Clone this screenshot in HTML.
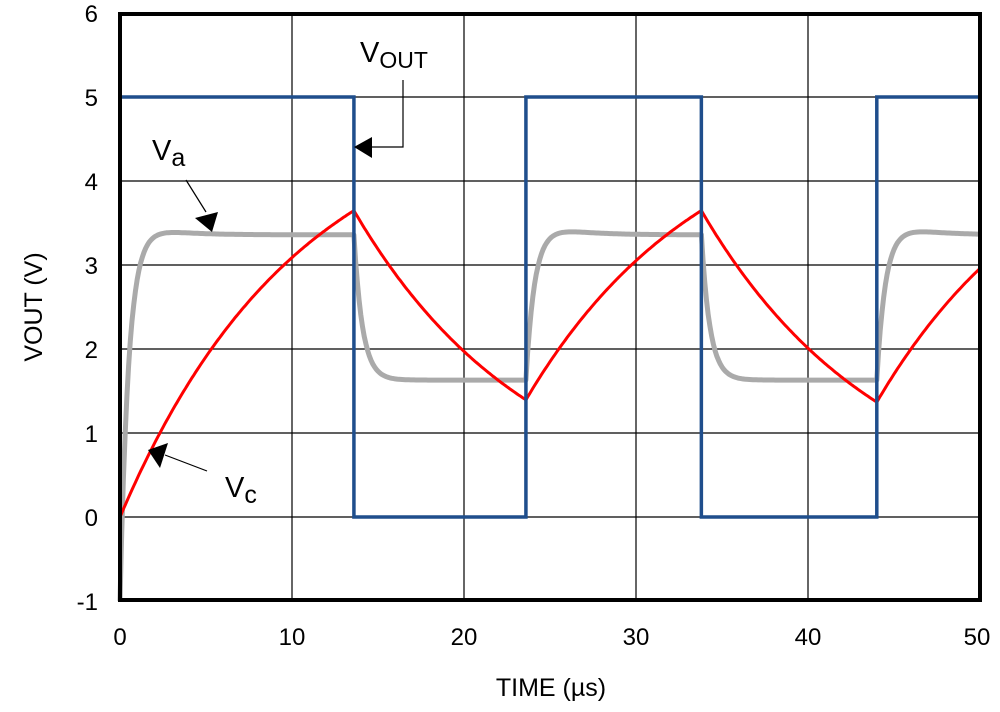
<!DOCTYPE html>
<html><head><meta charset="utf-8"><style>
body{margin:0;background:#fff;}
svg{display:block;font-family:"Liberation Sans",sans-serif;}
</style></head><body>
<svg id="s" width="1000" height="712" viewBox="0 0 1000 712">
<g stroke="#000" stroke-width="1.2" id="grid"></g>
<g font-size="24" fill="#000" text-anchor="end" id="yl"></g>
<g font-size="24" fill="#000" text-anchor="middle" id="xl"></g>
<text x="551" y="696" font-size="25" text-anchor="middle">TIME (µs)</text>
<text transform="translate(42,307) rotate(-90)" font-size="25" text-anchor="middle">VOUT (V)</text>
<path id="va" fill="none" stroke="#aaaaaa" stroke-width="5" stroke-linejoin="round"/>
<path id="vc" fill="none" stroke="#ff0000" stroke-width="3"/>
<path id="vo" fill="none" stroke="#1f4e8c" stroke-width="3.5"/>
<rect x="120" y="14" width="860" height="586" fill="none" stroke="#000" stroke-width="4"/>
<text x="360" y="62" font-size="29">V<tspan font-size="23" dy="6">OUT</tspan></text>
<polyline points="403,80 403,147 372,147" fill="none" stroke="#000" stroke-width="1.2"/>
<polygon points="354,147 372,137 372,158" fill="#000"/>
<text x="152" y="160" font-size="29">V<tspan font-size="25" dy="6">a</tspan></text>
<line x1="186" y1="180" x2="206" y2="212" stroke="#000" stroke-width="1.2"/>
<polygon points="212,232 195,218 218,212" fill="#000"/>
<text x="225" y="497" font-size="29">V<tspan font-size="25" dy="6">c</tspan></text>
<line x1="207" y1="471" x2="165" y2="455" stroke="#000" stroke-width="1.2"/>
<polygon points="148,450 168,443 160,468" fill="#000"/>
</svg>
<script>
var X=function(t){return 120+17.2*t;},Y=function(v){return 517-84*v;};
var g=document.getElementById('grid'),s='';
for(var i=1;i<5;i++){s+='<line x1="'+X(i*10)+'" y1="14" x2="'+X(i*10)+'" y2="600"/>';}
for(var v=0;v<6;v++){s+='<line x1="120" y1="'+Y(v)+'" x2="980" y2="'+Y(v)+'"/>';}
g.innerHTML=s;
var yl='';for(v=-1;v<=6;v++){yl+='<text x="98" y="'+(Y(v)+9)+'">'+v+'</text>';}
document.getElementById('yl').innerHTML=yl;
var xl='';for(i=0;i<=5;i++){xl+='<text x="'+(i==5?977:X(i*10))+'" y="645">'+(i*10)+'</text>';}
document.getElementById('xl').innerHTML=xl;
var ed=[0,13.6,23.6,33.8,44,50];
var p='M'+X(0)+','+Y(0)+' L'+X(0)+','+Y(5);
for(i=1;i<5;i++){var hi=(i%2==0);p+=' L'+X(ed[i])+','+Y(hi?0:5)+' L'+X(ed[i])+','+Y(hi?5:0);}
p+=' L'+X(50)+','+Y(5);
document.getElementById('vo').setAttribute('d',p);
var vc=0,pc='',pa='',tau=10.4;
for(var k=0;k<5;k++){
 var t0=ed[k],t1=ed[k+1],high=(k%2==0),c0=vc;
 for(var t=t0;t<=t1+1e-6;t+=0.1){
  var dt=t-t0;
  vc=high?5-(5-c0)*Math.exp(-dt/tau):c0*Math.exp(-dt/tau);
  pc+=(pc?' L':'M')+X(t).toFixed(1)+','+Y(vc).toFixed(1);
  var target=high?3.36:1.63,start=(k==0?-1:(high?1.63:3.36));
  var a=target+(start-target)*Math.exp(-dt/0.5);
  if(high) a+=0.06*(dt/1.3)*Math.exp(1-dt/1.3);
  pa+=(pa?' L':'M')+X(t).toFixed(1)+','+Y(a).toFixed(1);
 }
}
document.getElementById('vc').setAttribute('d',pc);
document.getElementById('va').setAttribute('d',pa);
</script>
</body></html>
